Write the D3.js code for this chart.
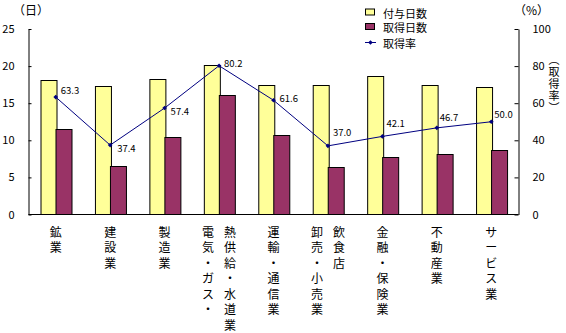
<!DOCTYPE html>
<html>
<head>
<meta charset="utf-8">
<script src="https://cdn.jsdelivr.net/npm/d3@7"></script>
<style>
  html, body { margin: 0; padding: 0; background: #fff; }
  svg { display: block; }
  text { font-family: "Noto Sans CJK JP", "Liberation Sans", sans-serif; fill: #000; }
  .vtitle { writing-mode: vertical-rl; }
</style>
</head>
<body>
<svg id="chart" width="566" height="333"></svg>
<script>
// Industries (a "\n" starts a new vertical column of the label)
const categories = [
  "鉱業", "建設業", "製造業", "電気・ガス・\n熱供給・水道業", "運輸・通信業",
  "卸売・小売業\n飲食店", "金融・保険業", "不動産業", "サービス業"
];
// Days granted per worker
const grantedDays = [18.1, 17.3, 18.2, 20.1, 17.4, 17.4, 18.7, 17.5, 17.2];
// Days actually taken
const takenDays = [11.5, 6.5, 10.5, 16.1, 10.7, 6.4, 7.8, 8.1, 8.7];
// Take-up rate (%)
const takeRate = [63.3, 37.4, 57.4, 80.2, 61.6, 37.0, 42.1, 46.7, 50.0];
// Axis ticks
const leftTicks = [0, 5, 10, 15, 20, 25];
const rightTicks = [0, 20, 40, 60, 80, 100];
const seriesNames = ["付与日数", "取得日数", "取得率"];

// Hand-placed nudges for the rate labels [dx, dy]
const rateLabelNudge = [[5, -7], [7, 3], [6, 3], [5, -3], [6, -2], [5, -14], [4, -13], [3, -11], [3, -8]];

const colors = { granted: "#FFFF99", taken: "#993366", rate: "#000080" };

const svg = d3.select("#chart");
const plot = { left: 28.5, right: 518.5, top: 29, bottom: 214.5 };

const x = d3.scaleBand().domain(d3.range(categories.length)).range([plot.left, plot.right]).padding(0);
const inner = d3.scaleBand().domain(["granted", "taken"]).range([0, x.bandwidth()])
  .paddingInner(0).paddingOuter(0.75);
const yL = d3.scaleLinear().domain([0, 25]).range([plot.bottom, plot.top]);
const yR = d3.scaleLinear().domain([0, 100]).range([plot.bottom, plot.top]);

// Bars
const groups = svg.append("g").selectAll("g").data(categories).join("g")
  .attr("transform", (d, i) => `translate(${x(i)},0)`);

groups.append("rect")
  .attr("x", () => Math.round(inner("granted")) + 0.5)
  .attr("y", (d, i) => Math.round(yL(grantedDays[i])) + 0.5)
  .attr("width", Math.round(inner.bandwidth()))
  .attr("height", (d, i) => plot.bottom - Math.round(yL(grantedDays[i])) - 0.5)
  .attr("fill", colors.granted).attr("stroke", "#000").attr("stroke-width", 1);

groups.append("rect")
  .attr("x", () => Math.round(inner("taken")) + 0.5)
  .attr("y", (d, i) => Math.round(yL(takenDays[i])) + 0.5)
  .attr("width", Math.round(inner.bandwidth()))
  .attr("height", (d, i) => plot.bottom - Math.round(yL(takenDays[i])) - 0.5)
  .attr("fill", colors.taken).attr("stroke", "#000").attr("stroke-width", 1);

// Left axis
const axisL = d3.axisLeft(yL).tickValues(leftTicks).tickSizeInner(-3).tickSizeOuter(0).tickPadding(14);
const gL = svg.append("g").attr("transform", `translate(${plot.left},0)`).call(axisL);
gL.select(".domain").attr("stroke", "#000");
gL.selectAll(".tick line").attr("stroke", "#000");
gL.selectAll(".tick text").attr("font-size", 11).attr("fill", "#000")
  .attr("font-family", "Liberation Sans, Arial, sans-serif");

// Right axis
const axisR = d3.axisRight(yR).tickValues(rightTicks).tickSizeInner(-4).tickSizeOuter(0).tickPadding(14);
const gR = svg.append("g").attr("transform", `translate(${plot.right},0)`).call(axisR);
gR.select(".domain").attr("stroke", "#000");
gR.selectAll(".tick line").attr("stroke", "#000");
gR.selectAll(".tick text").attr("font-size", 11).attr("fill", "#000")
  .attr("font-family", "Liberation Sans, Arial, sans-serif");

// Baseline
svg.append("line").attr("x1", plot.left).attr("x2", plot.right)
  .attr("y1", plot.bottom).attr("y2", plot.bottom).attr("stroke", "#000");

// Rate line
const cx = i => x(i) + x.bandwidth() / 2;
const line = d3.line().x((d, i) => cx(i)).y(d => yR(d));
svg.append("path").datum(takeRate).attr("d", line)
  .attr("fill", "none").attr("stroke", colors.rate).attr("stroke-width", 1);

const diamond = d3.symbol().type(d3.symbolDiamond2).size(14);
svg.append("g").selectAll("path").data(takeRate).join("path")
  .attr("d", diamond)
  .attr("transform", (d, i) => `translate(${cx(i)},${yR(d)})`)
  .attr("fill", colors.rate);

svg.append("g").selectAll("text").data(takeRate).join("text")
  .attr("x", (d, i) => cx(i) + rateLabelNudge[i][0])
  .attr("y", (d, i) => yR(d) + rateLabelNudge[i][1])
  .attr("dominant-baseline", "central")
  .attr("font-size", 9.5)
  .attr("font-family", "Liberation Sans, Arial, sans-serif")
  .text(d => d.toFixed(1));

// Vertical category labels
const lineStep = 15.5, colGap = 22;
categories.forEach((name, i) => {
  const cols = name.split("\n");
  cols.forEach((col, c) => {
    const colX = cx(i) + (c - (cols.length - 1) / 2) * colGap;
    Array.from(col).forEach((ch, k) => {
      svg.append("text")
        .attr("x", colX).attr("y", 231 + k * lineStep)
        .attr("text-anchor", "middle").attr("dominant-baseline", "central")
        .attr("font-size", 12).text(ch);
    });
  });
});

// Axis unit labels
svg.append("text").attr("x", 13).attr("y", 9).attr("dominant-baseline", "central")
  .attr("font-size", 12).text("（日）");
svg.append("text").attr("x", 514).attr("y", 9).attr("dominant-baseline", "central")
  .attr("font-size", 12).text("（%）");

// Right axis title, set in vertical writing mode
svg.append("text").attr("class", "vtitle")
  .attr("x", 554).attr("y", 84)
  .attr("text-anchor", "middle")
  .attr("font-size", 11).attr("letter-spacing", 1)
  .text("（取得率）");

// Legend
const legend = svg.append("g").attr("transform", "translate(365,0)");
const rowY = [12.5, 27, 42.5];
legend.append("rect").attr("x", 0.5).attr("y", rowY[0] - 3.5).attr("width", 9).attr("height", 6)
  .attr("fill", colors.granted).attr("stroke", "#000");
legend.append("rect").attr("x", 0.5).attr("y", rowY[1] - 3.5).attr("width", 9).attr("height", 6)
  .attr("fill", colors.taken).attr("stroke", "#000");
legend.append("line").attr("x1", 0).attr("x2", 11).attr("y1", rowY[2]).attr("y2", rowY[2])
  .attr("stroke", colors.rate);
legend.append("path").attr("d", diamond).attr("transform", `translate(5.5,${rowY[2]})`)
  .attr("fill", colors.rate);
seriesNames.forEach((s, k) => {
  legend.append("text").attr("x", 18).attr("y", rowY[k]).attr("dominant-baseline", "central")
    .attr("font-size", 11).text(s);
});
</script>
</body>
</html>
